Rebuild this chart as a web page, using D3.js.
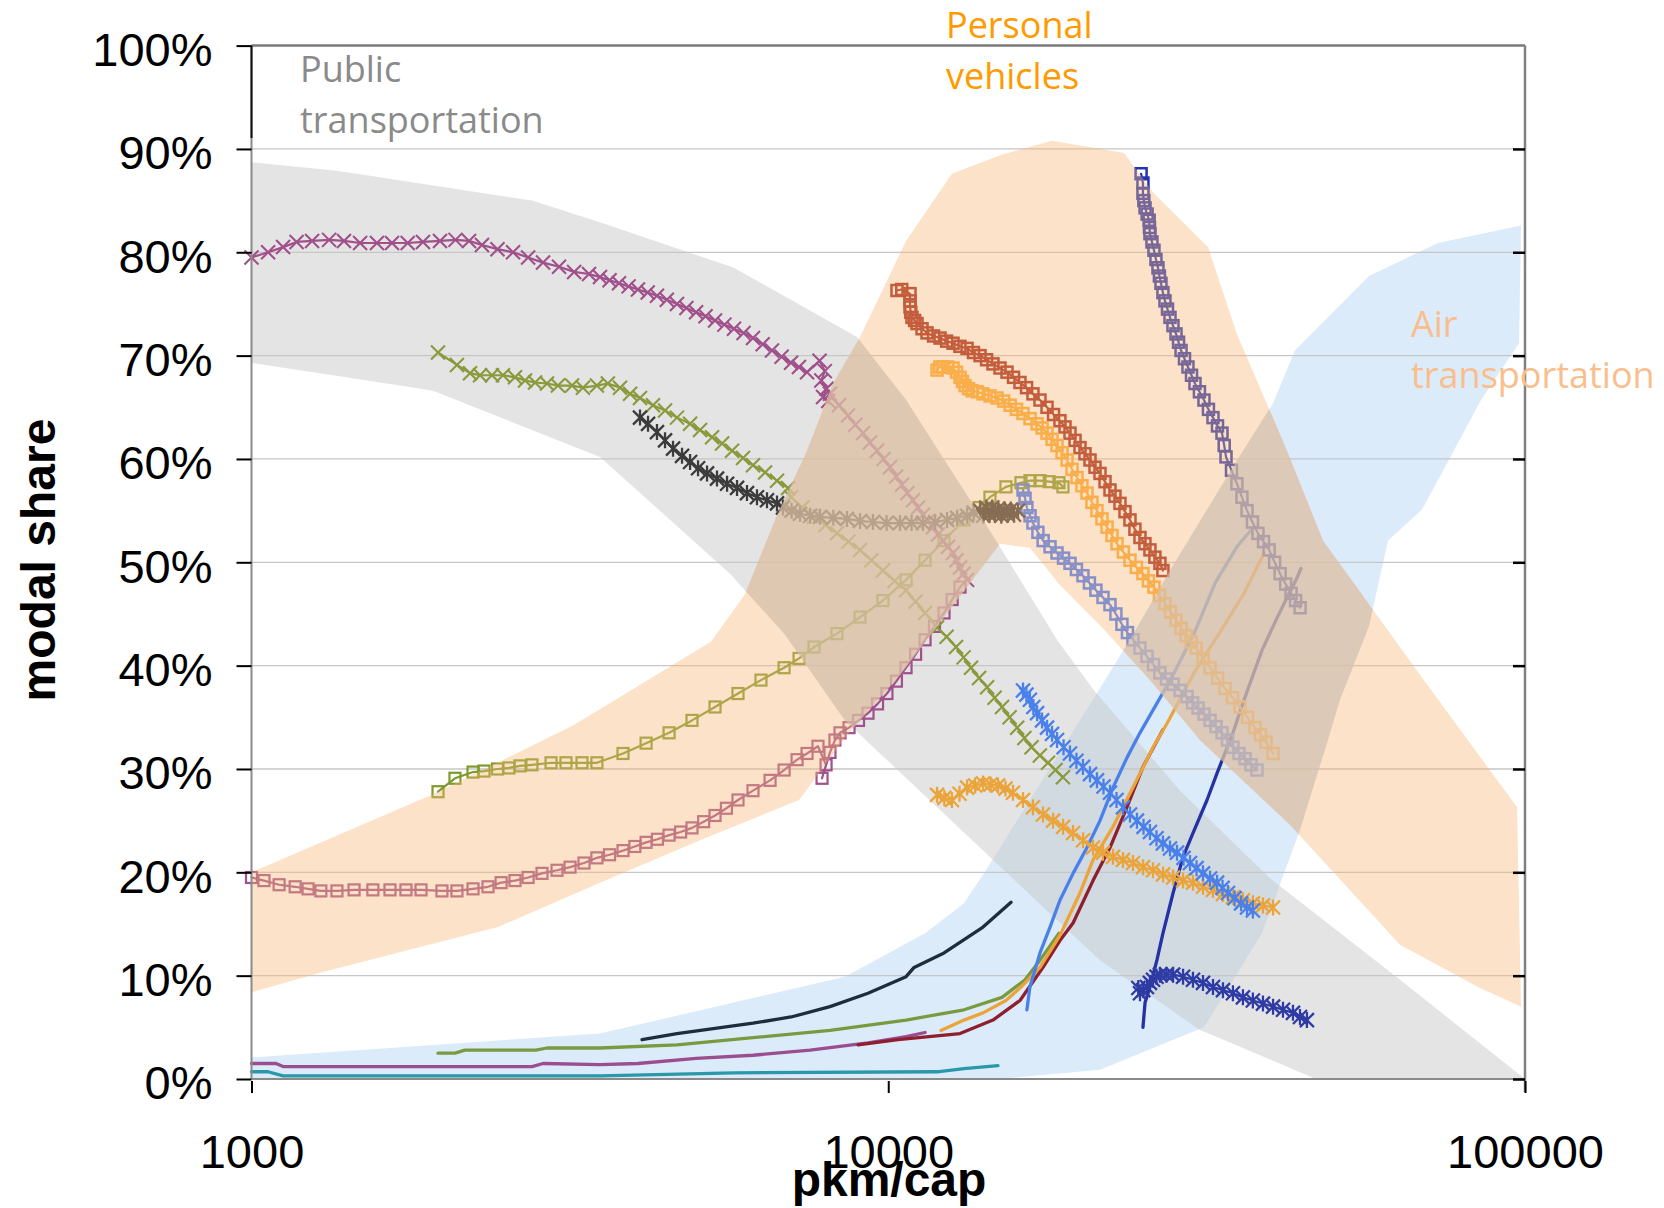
<!DOCTYPE html>
<html><head><meta charset="utf-8">
<script src="https://cdn.jsdelivr.net/npm/d3@7"></script>
<style>body{margin:0;background:#fff}svg{display:block}</style>
</head><body>
<svg id="c" width="1664" height="1208"></svg>
<script>
// ---------- axes ----------
const xTickValues = [1000, 10000, 100000];
const yTickValues = [0,10,20,30,40,50,60,70,80,90,100];
const yRightTicks = [0,10,20,30,40,50,60,70,80,90];

// ---------- shaded bands (pkm/cap, % share) ----------
const publicBandUpper = [[1000,88.7],[1362,87.9],[2757,85.0],[3526,82.9],[5724,78.5],[8930,71.8],[10665,65.7],[14872,51.8],[18410,42.5],[21050,37.6],[28730,27.9],[39640,19.5],[63650,9.6],[100000,0]];
const publicBandLower = [[46950,0],[30760,4.8],[21506,11.5],[14089,22.1],[8552,34.7],[6862,43.1],[5642,48.9],[3526,60.2],[1928,66.6],[1711,67.1],[1000,69.3]];
const personalBandUpper = [[1000,20.0],[1920,27.5],[3198,34.2],[5267,42.3],[5957,46.9],[6640,54.1],[7455,60.8],[8190,67.3],[9030,71.8],[10665,81.1],[12590,87.6],[14980,89.4],[18076,90.8],[23460,89.6],[26140,85.7],[31780,80.5],[35280,72.1],[42290,60.8],[48160,52.1],[68420,39.1],[97160,26.3],[98580,7.0]];
const personalBandLower = [[84380,8.9],[63630,13.0],[42740,24.6],[30870,32.8],[25760,38.6],[21506,43.9],[18605,47.8],[16690,51.4],[14980,51.8],[10435,39.1],[8678,33.5],[7243,27.0],[5063,23.1],[3526,19.0],[2438,14.7],[1285,10.3],[1000,8.4]];
const airBandUpper = [[1000,2.1],[3526,4.4],[8552,9.9],[11423,14.1],[13152,17.0],[14235,20.2],[16690,27.0],[20005,34.7],[23969,42.5],[27700,49.2],[34530,58.9],[40210,65.4],[43520,70.5],[56880,77.7],[73020,80.9],[98580,82.6]];
const airBandLower = [[97860,71.2],[85300,65.7],[68920,55.1],[60940,52.1],[56880,43.8],[51210,36.7],[48860,32.5],[44310,24.1],[38630,14.1],[31310,5.0],[21506,0.9],[14980,0],[1000,0]];

// ---------- public transportation (x / star markers) ----------
const pubA = [[1000,79.5],[1062,80.0],[1121,80.5],[1177,81.0],[1245,81.1],[1324,81.2],[1397,81.1],[1481,80.9],[1574,80.9],[1662,80.9],[1759,80.9],[1859,81.0],[1977,81.1],[2091,81.2],[2196,81.1],[2301,80.7],[2434,80.3],[2575,80.0],[2719,79.5],[2870,79.0],[3041,78.6],[3211,78.1],[3389,77.9],[3526,77.6],[3650,77.3],[3777,77.0],[3910,76.7],[4045,76.4],[4190,76.1],[4333,75.8],[4490,75.4],[4658,75.0],[4820,74.6],[4991,74.2],[5165,73.8],[5345,73.4],[5530,73.0],[5724,72.6],[5925,72.2],[6132,71.7],[6350,71.1],[6568,70.5],[6800,69.9],[7036,69.3],[7240,68.9],[7455,68.4],[7800,69.5],[7950,68.5],[7850,67.6],[8000,66.8],[7900,66.0],[8050,65.6],[8100,66.3],[8370,65.2],[8645,64.2],[8880,63.3],[9128,62.5],[9360,61.6],[9600,60.8],[9830,60.0],[10063,59.2],[10290,58.3],[10510,57.5],[10720,56.7],[10936,56.0],[11140,55.3],[11339,54.6],[11550,54.0],[11757,53.4],[11970,52.7],[12190,52.1],[12410,51.5],[12640,50.9],[12800,50.2],[12964,49.5],[13130,48.9],[13297,48.3]];
const pubB = [[1963,70.3],[2102,69.1],[2204,68.3],[2285,68.1],[2386,68.1],[2483,68.1],[2593,67.9],[2689,67.6],[2788,67.4],[2911,67.3],[3029,67.1],[3187,67.1],[3315,66.9],[3487,67.1],[3628,67.3],[3791,66.9],[3932,66.3],[4075,65.9],[4271,65.2],[4461,64.7],[4658,64.0],[4884,63.4],[5063,62.8],[5288,62.1],[5483,61.5],[5685,60.8],[5914,60.1],[6132,59.4],[6405,58.7],[6688,57.9],[6960,57.2],[7036,56.3],[7330,55.3],[7644,54.4],[7970,53.6],[8308,52.8],[8660,52.0],[9030,51.2],[9410,50.2],[9810,49.2],[10230,48.2],[10665,47.3],[11040,46.2],[11423,45.1],[11930,43.7],[12350,42.8],[12780,41.8],[13130,40.8],[13490,39.8],[13890,38.8],[14300,37.9],[14690,36.9],[15090,36.0],[15510,35.0],[15940,34.0],[16360,33.0],[16790,32.1],[17300,31.3],[17820,30.6],[18310,29.9],[18810,29.2]];
const pubC = [[4075,64.0],[4195,63.4],[4333,62.6],[4461,61.8],[4592,61.0],[4744,60.3],[4884,59.7],[5027,59.1],[5193,58.6],[5383,58.1],[5583,57.6],[5788,57.2],[6000,56.7],[6221,56.3],[6450,56.0],[6688,55.7],[6834,55.3],[7050,55.0],[7268,54.7],[7540,54.5],[7812,54.4],[8200,54.3],[8613,54.2],[9030,54.0],[9463,53.9],[9940,53.8],[10435,53.8],[10880,53.8],[11339,53.8],[11850,53.9],[12370,54.1],[12830,54.3],[13297,54.5],[13620,54.8],[13936,55.0],[14100,54.5],[14250,55.3],[14400,54.6],[14560,55.3],[14710,54.6],[14880,55.2],[15050,54.5],[15220,55.1],[15400,54.6],[15580,55.1],[15760,54.6],[15990,55.0]];
const pubE = [[11930,27.5],[12250,27.2],[12590,27.0],[12940,27.6],[13297,28.2],[13690,28.4],[14089,28.6],[14480,28.5],[14872,28.4],[15280,28.1],[15700,27.7],[16280,27.0],[16877,26.3],[17500,25.6],[18150,25.0],[18820,24.4],[19510,23.8],[20230,23.1],[20970,22.4],[21740,21.9],[22540,21.5],[23370,21.2],[24230,20.9],[25130,20.5],[26050,20.2],[27020,19.8],[28010,19.5],[29040,19.2],[30100,19.0],[31210,18.6],[32360,18.3],[33550,17.9],[34780,17.6],[36060,17.3],[37380,17.0],[38770,16.8],[40210,16.6]];
const pubF = [[24700,8.8],[24851,8.3],[25150,8.6],[25480,8.9],[25760,9.3],[26050,9.6],[26380,9.9],[26710,10.1],[27350,10.1],[28010,10.1],[29040,9.9],[30100,9.6],[31210,9.3],[32360,8.9],[33550,8.6],[34780,8.3],[36060,7.9],[37380,7.6],[38770,7.3],[40210,7.0],[41680,6.7],[43210,6.4],[44320,6.0],[45450,5.7]];
const pubG = [[16280,37.6],[16480,37.2],[16690,36.7],[16900,36.0],[17130,35.4],[17440,34.7],[17756,34.0],[18080,33.4],[18410,32.8],[18850,32.1],[19295,31.5],[19750,30.8],[20220,30.2],[20740,29.5],[21270,28.9],[21780,28.3],[22297,27.7],[22830,27.0],[23370,26.3],[23970,25.6],[24580,25.0],[25170,24.4],[25763,23.9],[26380,23.3],[27000,22.8],[27700,22.3],[28410,21.9],[29090,21.4],[29780,20.9],[30490,20.4],[31210,19.9],[32020,19.4],[32840,19.0],[33500,18.5],[34160,18.0],[34990,17.5],[35820,17.0],[36600,16.6],[37380,16.3]];

// ---------- personal vehicles (square markers) ----------
const perA = [[1000,19.5],[1046,19.2],[1105,18.8],[1171,18.6],[1227,18.4],[1285,18.2],[1362,18.2],[1449,18.3],[1551,18.3],[1650,18.3],[1748,18.3],[1846,18.3],[1991,18.2],[2102,18.2],[2228,18.4],[2352,18.6],[2466,19.0],[2593,19.2],[2719,19.5],[2859,19.9],[3019,20.2],[3164,20.5],[3328,20.9],[3487,21.4],[3650,21.7],[3832,22.1],[4000,22.5],[4166,22.9],[4340,23.2],[4527,23.6],[4720,23.9],[4918,24.3],[5130,24.9],[5345,25.5],[5570,26.2],[5808,27.0],[6132,27.9],[6522,28.9],[6862,29.9],[7192,30.9],[7455,31.5],[7756,32.2],[7986,30.4],[7871,29.1],[8100,31.6],[8247,32.8],[8400,33.5],[8678,34.0],[8980,34.7],[9294,35.4],[9620,36.3],[9953,37.3],[10300,38.5],[10665,39.8],[11040,41.1],[11423,42.5],[11820,43.8],[12235,45.1],[12600,46.4],[12964,47.6]];
const perB = [[1963,27.8],[2087,29.1],[2228,29.7],[2318,29.8],[2434,30.0],[2537,30.1],[2641,30.3],[2757,30.4],[2954,30.6],[3118,30.6],[3304,30.6],[3487,30.6],[3832,31.5],[4166,32.5],[4527,33.5],[4918,34.7],[5345,36.0],[5808,37.3],[6311,38.6],[6862,39.8],[7243,40.7],[7644,41.8],[8308,43.1],[9030,44.7],[9810,46.3],[10665,48.3],[11423,50.2],[12235,52.1],[13152,54.1],[13885,55.3],[14445,56.3],[15305,57.3],[16160,57.7],[16700,57.9],[17310,57.9],[17900,57.8],[18540,57.7],[18810,57.3]];
const perD = [[10321,76.3],[10500,76.4],[10819,76.0],[10819,75.3],[10819,74.7],[10850,74.2],[10897,73.7],[11000,73.4],[11096,73.1],[11300,72.6],[11504,72.2],[11780,71.9],[12060,71.7],[12350,71.4],[12640,71.2],[12960,70.9],[13297,70.7],[13610,70.3],[13936,70.0],[14270,69.6],[14604,69.2],[14980,68.8],[15365,68.4],[15730,67.9],[16102,67.4],[16490,66.9],[16877,66.3],[17310,65.7],[17756,65.0],[18180,64.3],[18605,63.7],[18950,63.1],[19295,62.5],[19650,61.8],[20005,61.1],[20370,60.5],[20743,59.9],[21120,59.2],[21506,58.6],[21900,57.8],[22297,57.0],[22700,56.4],[23117,55.7],[23540,54.9],[23969,54.1],[24400,53.2],[24851,52.4],[25300,51.8],[25763,51.2],[26230,50.5],[26710,49.9],[27000,49.2]];
const perE = [[11930,68.6],[12050,68.9],[12190,68.9],[12400,68.9],[12640,68.8],[12800,68.4],[12964,67.9],[13080,67.5],[13200,67.1],[13370,66.8],[13540,66.6],[13800,66.5],[14089,66.3],[14450,66.1],[14820,65.9],[15180,65.6],[15540,65.2],[15900,64.8],[16280,64.4],[16700,63.9],[17130,63.4],[17440,63.0],[17756,62.5],[18080,61.9],[18410,61.3],[18750,60.6],[19090,59.9],[19440,59.0],[19790,58.2],[20150,57.4],[20520,56.7],[20890,55.8],[21270,55.0],[21660,54.2],[22060,53.4],[22460,52.6],[22870,51.8],[23400,51.0],[23969,50.2],[24530,49.5],[25119,48.9],[25620,48.2],[26140,47.6],[26660,46.8],[27200,46.0],[27750,45.2],[28310,44.4],[28830,43.6],[29360,42.9],[29900,42.3],[30450,41.7],[31220,40.7],[32020,39.8],[32900,38.8],[33800,37.8],[34730,36.9],[35680,36.0],[36660,35.0],[37670,34.0],[38430,33.3],[39200,32.6],[40210,31.5]];
const perF = [[24950,87.6],[25119,86.7],[25119,85.7],[25200,85.0],[25310,84.3],[25500,83.7],[25690,83.1],[25720,82.4],[25763,81.8],[25950,81.0],[26140,80.2],[26330,79.3],[26520,78.5],[26660,77.7],[26810,77.0],[27000,76.1],[27200,75.3],[27450,74.5],[27700,73.7],[28000,72.9],[28310,72.1],[28570,71.3],[28830,70.5],[29190,69.7],[29560,68.9],[29940,68.1],[30320,67.3],[30810,66.5],[31320,65.7],[31830,64.8],[32360,64.0],[32890,63.2],[33430,62.5],[33700,61.3],[33920,60.2],[34600,58.9],[35280,57.6],[35930,56.3],[36600,55.0],[37320,53.9],[38070,52.8],[38850,52.0],[39640,51.2],[40440,50.0],[41250,48.9],[42080,47.9],[42920,47.0],[43620,46.3],[44340,45.6]];
const perG = [[16280,57.0],[16400,56.2],[16510,55.3],[16700,54.5],[16877,53.8],[17180,52.9],[17510,52.1],[17950,51.5],[18410,50.9],[18850,50.4],[19295,49.9],[19750,49.3],[20220,48.7],[20700,48.0],[21190,47.3],[21740,46.6],[22297,45.9],[22780,45.0],[23280,44.0],[23750,43.2],[24230,42.5],[24850,41.7],[25490,40.9],[26100,40.1],[26710,39.3],[27350,38.7],[28010,38.2],[28730,37.6],[29470,37.0],[30060,36.4],[30660,35.9],[31330,35.3],[32020,34.7],[32720,34.1],[33430,33.5],[34100,32.8],[34780,32.1],[35550,31.5],[36340,31.0],[37130,30.4],[37940,29.9]];

// ---------- air transportation (plain lines) ----------
const airA = [[1000,1.5],[1093,1.5],[1121,1.2],[2757,1.2],[2870,1.5],[3526,1.4],[4045,1.5],[4991,2.0],[6132,2.3],[7537,2.8],[9294,3.5],[10665,4.1],[11423,4.5]];
const airB = [[1963,2.5],[2087,2.5],[2163,2.8],[2797,2.8],[2911,3.0],[3526,3.0],[4658,3.3],[6132,4.0],[8100,4.7],[10665,5.7],[13152,6.7],[15090,7.9],[16400,9.6],[17310,11.5],[18540,14.1]];
const airC = [[4105,3.8],[4658,4.4],[5345,4.9],[6132,5.4],[7036,6.0],[8100,7.0],[9294,8.3],[10665,9.9],[10980,10.8],[12235,12.2],[14089,14.7],[15590,17.1]];
const airD = [[8963,3.3],[10360,3.8],[12964,4.4],[14604,5.7],[16102,7.6],[17500,10.8],[18605,13.4],[19510,15.1],[20970,19.2],[22297,22.4],[23710,26.3],[25120,30.2],[27000,33.8]];
const airE = [[12100,4.7],[13152,5.7],[14089,6.4],[15305,7.6],[16160,8.9],[17310,10.8],[18605,13.9],[20005,18.0],[20970,21.2],[22540,24.4],[24230,28.2],[26050,32.1],[27400,34.4],[30220,39.3],[33080,43.1],[36210,47.0],[38920,50.9]];
const airF = [[25119,5.0],[25310,7.4],[25763,8.9],[26420,11.5],[27000,14.1],[28010,18.0],[29040,21.5],[30100,23.8],[31670,27.0],[32840,29.6],[34780,33.5],[36210,36.7],[38640,41.5],[40640,44.4],[42290,46.6],[43700,48.3],[44480,49.4]];
const airG = [[16510,6.7],[16690,8.9],[17310,12.2],[17950,14.7],[18605,17.3],[19510,19.9],[20520,22.4],[21506,25.0],[22540,28.2],[23710,31.1],[24851,33.5],[26050,35.7],[27900,38.9],[30220,43.1],[32620,48.0],[35280,51.5],[37110,53.1]];
const airH = [[1000,0.7],[1062,0.7],[1121,0.3],[3526,0.3],[5724,0.6],[11930,0.7],[13152,1.0],[14872,1.3]];

// ---------- drawing ----------
const svg = d3.select('#c');
const X0 = 251.5, X1 = 1525, Y0 = 1079, Y1 = 45.6;
const x = d3.scaleLog().domain([1000,100000]).range([X0,X1]);
const y = d3.scaleLinear().domain([0,100]).range([Y0,Y1]);
const line = d3.line().x(d=>x(d[0])).y(d=>y(d[1]));
const band = (u,l) => line(u.concat(l)) + 'Z';

const defs = svg.append('defs');
defs.append('clipPath').attr('id','pvClip').append('path').attr('d', band(personalBandUpper, personalBandLower));

// under-layer bands
svg.append('path').attr('d', band(airBandUpper, airBandLower)).attr('fill','#dcebfa');
svg.append('path').attr('d', band(publicBandUpper, publicBandLower)).attr('fill','rgb(195,195,195)').attr('fill-opacity',0.45);

// gridlines
svg.append('g').selectAll('line').data([10,20,30,40,50,60,70,80,90]).join('line')
  .attr('x1',X0).attr('x2',X1-4).attr('y1',d=>y(d)).attr('y2',d=>y(d))
  .attr('stroke','#c6c6c6').attr('stroke-width',1.3);

const series = svg.append('g');
function drawLine(data, color, w){
  series.append('path').attr('d', line(data)).attr('fill','none')
    .attr('stroke', color).attr('stroke-width', w).attr('stroke-linejoin','round').attr('stroke-linecap','round');
}
function markerD(type, s){
  let d = `M${-s},${-s}L${s},${s}M${-s},${s}L${s},${-s}`;
  if (type==='star') d += `M0,${-s-1}L0,${s+1}`;
  return d;
}
function drawMarked(data, color, type, sw){
  drawLine(data, color, 2.2);
  const g = series.append('g');
  if (type==='sq'){
    g.selectAll('rect').data(data).join('rect')
      .attr('x',d=>x(d[0])-5.5).attr('y',d=>y(d[1])-5.5).attr('width',11).attr('height',11)
      .attr('fill','none').attr('stroke',color).attr('stroke-width',sw||2.5);
  } else {
    g.selectAll('path').data(data).join('path')
      .attr('transform',d=>`translate(${x(d[0])},${y(d[1])})`)
      .attr('d', markerD(type, 7)).attr('fill','none').attr('stroke',color).attr('stroke-width',sw||2.3);
  }
}

// air lines
drawLine(airH, '#2a98a8', 3.3);
drawLine(airA, '#9a4e90', 3.3);
drawLine(airB, '#7a9a40', 3.3);
drawLine(airC, '#1e2d3c', 3.3);
drawLine(airD, '#8e1f2e', 3.3);
drawLine(airE, '#eba43a', 3.3);
drawLine(airG, '#4a80ea', 3.3);
drawLine(airF, '#2532a4', 3.3);

// personal vehicles (squares)
drawMarked(perA, '#a0508a', 'sq', 2.2);
drawMarked(perB, '#7e9a2c', 'sq', 2.2);
drawMarked(perD, '#a02418', 'sq');
drawMarked(perE, '#fca82e', 'sq');
drawMarked(perG, '#3e77ff', 'sq');
drawMarked(perF, '#2234b0', 'sq');

// public transportation (x / star)
drawMarked(pubA, '#a0508a', 'x', 2.1);
drawMarked(pubB, '#8a9a3c', 'x', 2.1);
drawMarked(pubC, '#3c3c3c', 'star');
drawMarked(pubE, '#eba43a', 'star');
drawMarked(pubG, '#4a80ea', 'star');
drawMarked(pubF, '#2f3ba4', 'star');

// over-layer: personal band tint, and its overlaps
svg.append('path').attr('d', band(personalBandUpper, personalBandLower))
  .attr('fill','rgb(247,182,117)').attr('fill-opacity',0.4);
const ov = svg.append('g').attr('clip-path','url(#pvClip)').attr('opacity',0.62);
ov.append('path').attr('d', band(publicBandUpper, publicBandLower)).attr('fill','rgb(214,194,174)');
ov.append('path').attr('d', band(airBandUpper, airBandLower)).attr('fill','rgb(214,194,174)');

// frame
svg.append('line').attr('x1',X0).attr('x2',X1).attr('y1',Y1).attr('y2',Y1).attr('stroke','#7a7a7a').attr('stroke-width',2.5);
svg.append('line').attr('x1',X1).attr('x2',X1).attr('y1',Y1).attr('y2',Y0+13).attr('stroke','#808080').attr('stroke-width',2.5);
svg.append('line').attr('x1',X0).attr('x2',X1).attr('y1',Y0).attr('y2',Y0).attr('stroke','#8a8a8a').attr('stroke-width',2);
svg.append('line').attr('x1',X0).attr('x2',X0).attr('y1',Y1).attr('y2',Y0).attr('stroke','#8a8a8a').attr('stroke-width',2);
svg.append('line').attr('x1',X0).attr('x2',X0).attr('y1',Y1).attr('y2',138).attr('stroke','#111').attr('stroke-width',2);

const axisFont = '"Liberation Sans", Arial, sans-serif';
const ay = svg.append('g').attr('transform',`translate(${X0},0)`)
  .call(d3.axisLeft(y).tickValues(yTickValues).tickFormat(d=>d+'%').tickSize(15).tickPadding(24));
ay.select('.domain').remove();
ay.selectAll('line').attr('stroke','#000').attr('stroke-width',2);
ay.selectAll('text').attr('font-size',47).attr('font-family',axisFont).attr('fill','#000').attr('dy','0.42em');

const ar = svg.append('g').attr('transform',`translate(${X1},0)`)
  .call(d3.axisLeft(y).tickValues(yRightTicks).tickFormat('').tickSize(12));
ar.select('.domain').remove();
ar.selectAll('line').attr('stroke','#000').attr('stroke-width',2.5);

const ax = svg.append('g').attr('transform',`translate(0,${Y0+2})`)
  .call(d3.axisBottom(x).tickValues(xTickValues).tickFormat(d3.format('d')).tickSize(12).tickPadding(42));
ax.select('.domain').remove();
ax.selectAll('line').attr('stroke','#000').attr('stroke-width',2);
ax.selectAll('text').attr('font-size',47).attr('font-family',axisFont).attr('fill','#000');

// axis titles
svg.append('text').attr('x',889).attr('y',1196).attr('text-anchor','middle')
  .attr('font-family',axisFont).attr('font-weight','bold').attr('font-size',48).text('pkm/cap');
svg.append('text').attr('transform','translate(55,560) rotate(-90)').attr('text-anchor','middle')
  .attr('font-family',axisFont).attr('font-weight','bold').attr('font-size',48).text('modal share');

// band labels
const lblFont = '"Open Sans", "Noto Sans", sans-serif';
function label(lines, x0, y0, color){
  const t = svg.append('text').attr('font-family',lblFont).attr('font-size',36).attr('fill',color);
  lines.forEach((s,i)=>t.append('tspan').attr('x',x0).attr('y',y0+i*51).text(s));
}
label(['Public','transportation'], 300, 82, '#8a8a8a');
label(['Personal','vehicles'], 946, 38, '#ff9a00');
label(['Air','transportation'], 1411, 337, '#fabd8c');
</script>
</body></html>
